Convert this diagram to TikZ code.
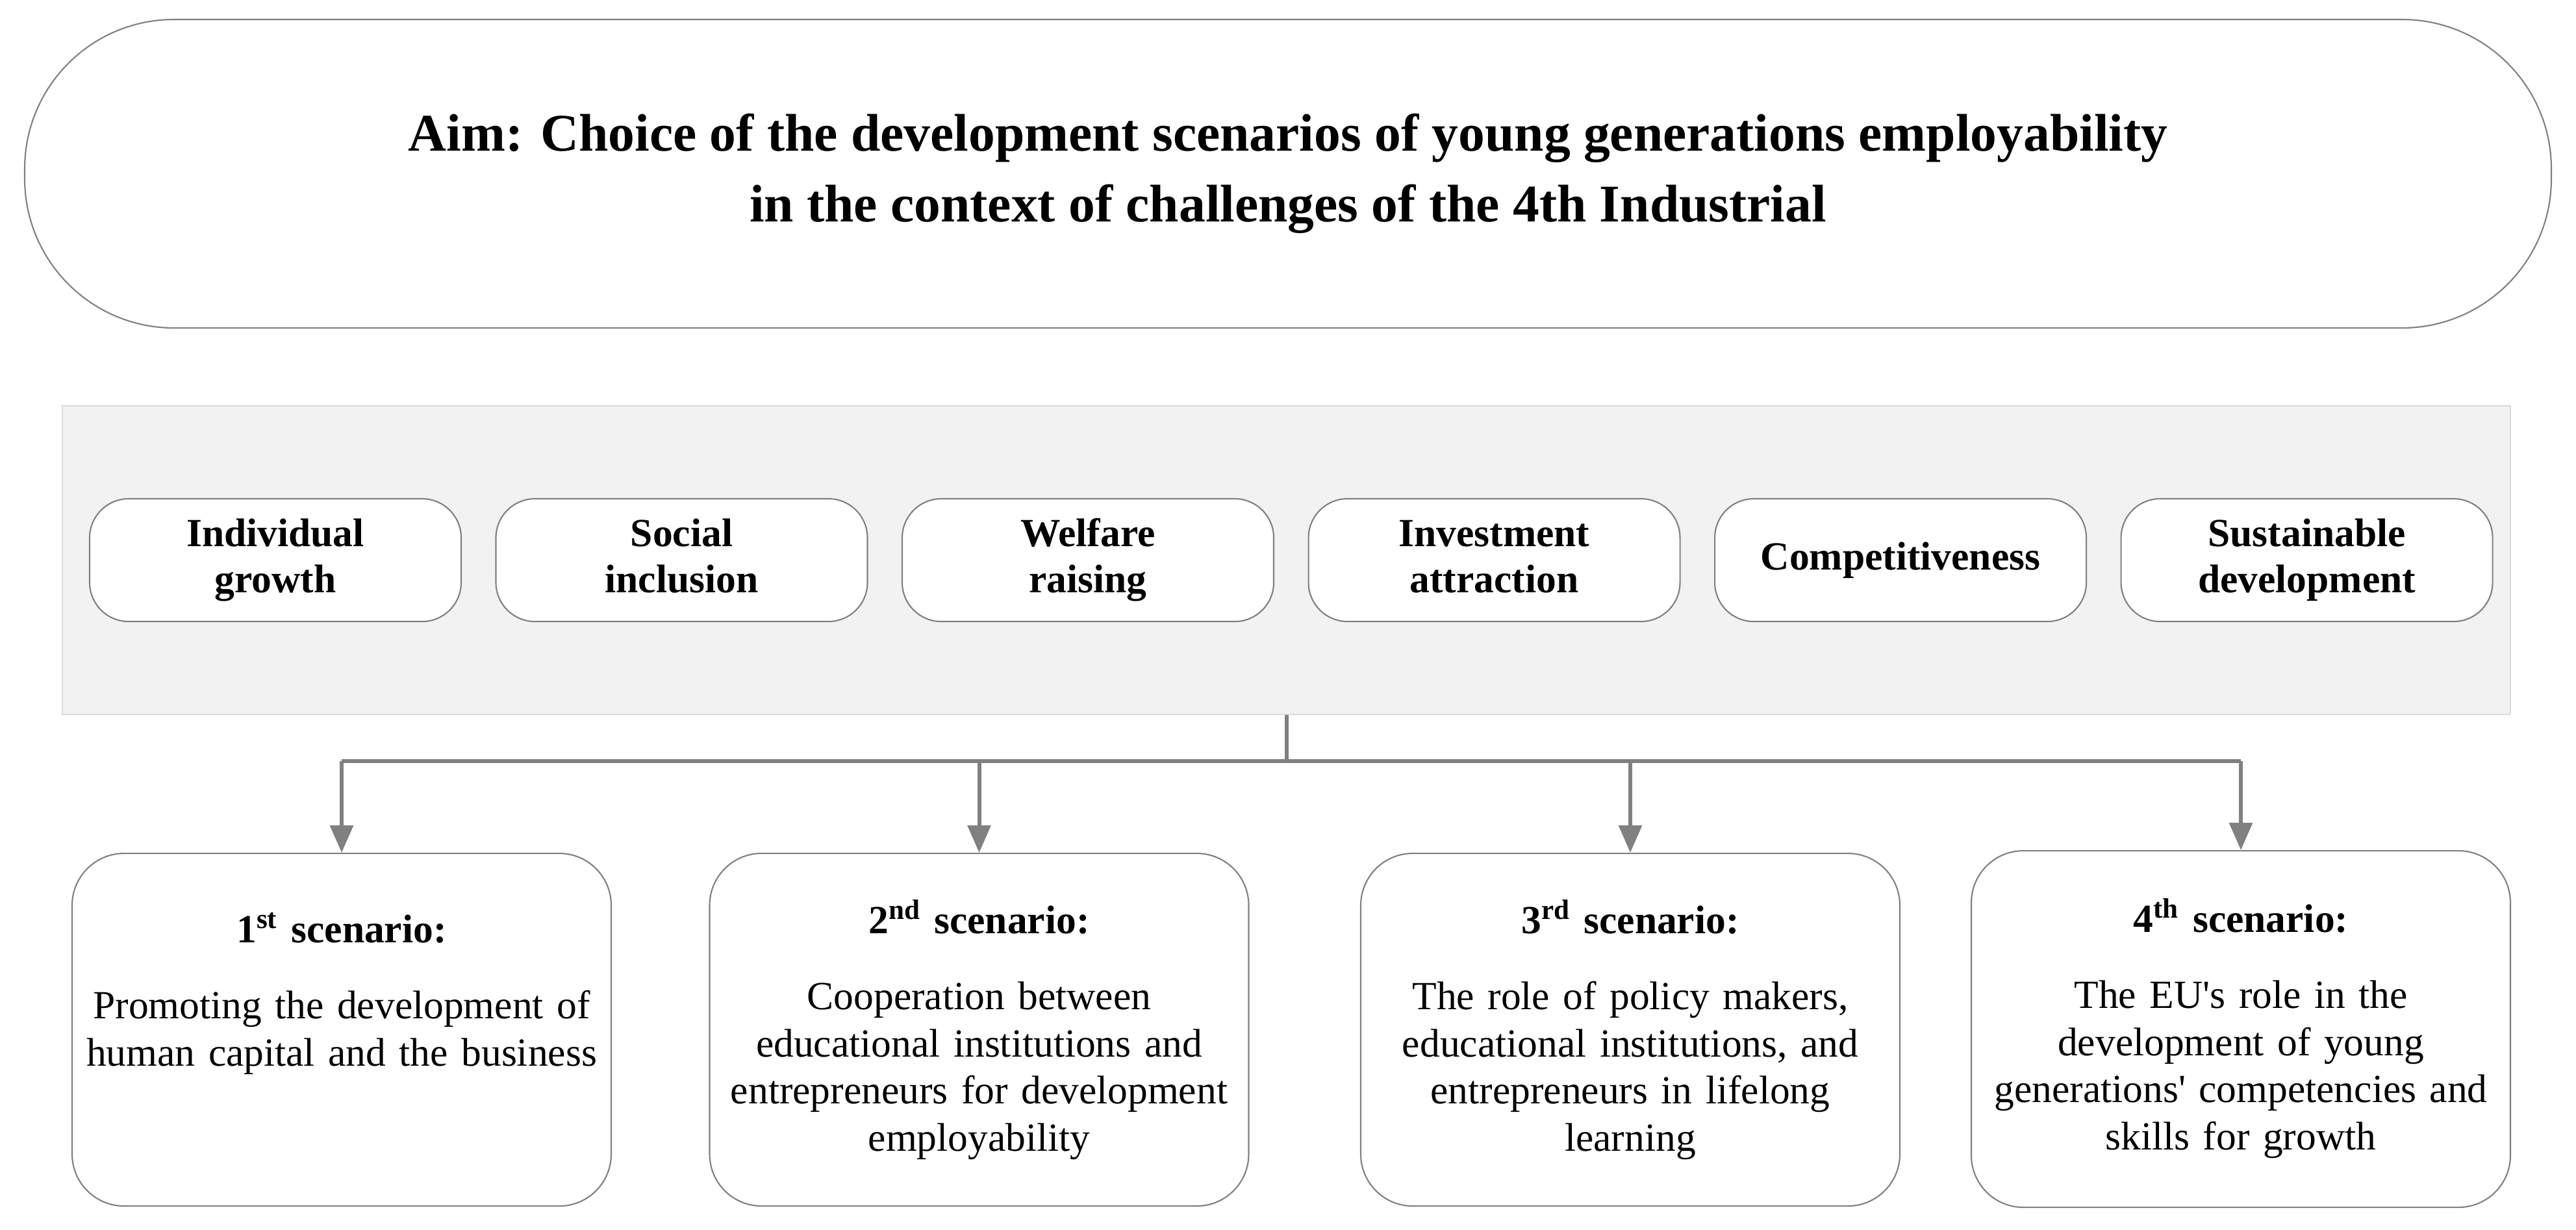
\documentclass[tikz,border=0pt]{standalone}
\usepackage{fontspec}
\setmainfont{Liberation Serif}[Ligatures=TeXOff]
\usetikzlibrary{arrows.meta,positioning}

\begin{document}
\begin{tikzpicture}[
  aimbox/.style={draw=gray, line width=0.6pt, rounded corners=2.3cm, minimum width=38.9cm, minimum height=4.75cm, align=center, font=\bfseries\fontsize{23.2pt}{31pt}\selectfont},
  panelbox/.style={draw=black!15, fill=black!5, line width=0.6pt, minimum width=37.69cm, minimum height=4.75cm},
  goal/.style={draw=gray, fill=white, line width=0.6pt, rounded corners=0.6cm, minimum width=5.72cm, inner sep=0pt, text width=5.2cm, align=center, text height=0.73cm, text depth=1.16cm, font=\bfseries\fontsize{17.5pt}{20.2pt}\selectfont},
  scen/.style={draw=gray, line width=0.6pt, rounded corners=0.8cm, anchor=north, inner xsep=0pt, inner ysep=0pt, text width=8.3cm, align=center, text height=1.23cm, text depth=4.2cm, font=\fontsize{17.5pt}{20.6pt}\selectfont},
  link/.style={draw=gray, line width=1.7pt},
  arr/.style={link, -{Triangle[width=10pt,length=12pt]}}
]
\useasboundingbox (0,0) rectangle (39.66,-18.93);

% aim
\node[aimbox] (aim) at (19.83,-2.675) {Aim: Choice of the development scenarios of young generations employability\\ in the context of challenges of the 4th Industrial};

% goals
\node[panelbox] (panel) at (19.805,-8.625) {};
\node[goal] (g1) at (4.24,-8.625) {Individual\\growth};
\node[goal, right=0.514cm of g1] (g2) {Social\\inclusion};
\node[goal, right=0.514cm of g2] (g3) {Welfare\\raising};
\node[goal, right=0.514cm of g3] (g4) {Investment\\attraction};
\node[goal, right=0.514cm of g4, text height=1.09cm, text depth=0.80cm] (g5) {Competitiveness};
\node[goal, right=0.514cm of g5] (g6) {Sustainable\\development};

% scenarios
\node[scen, text height=1.37cm, text depth=4.06cm] (s1) at (5.26,-13.13) {{\bfseries 1\textsuperscript{st} scenario:}\\[12.9pt] Promoting the development of\\ human capital and the business};
\node[scen] (s2) at (15.075,-13.13) {{\bfseries 2\textsuperscript{nd} scenario:}\\[12.9pt] Cooperation between\\ educational institutions and\\ entrepreneurs for development\\ employability};
\node[scen] (s3) at (25.10,-13.13) {{\bfseries 3\textsuperscript{rd} scenario:}\\[12.9pt] The role of policy makers,\\ educational institutions, and\\ entrepreneurs in lifelong\\ learning};
\node[scen, text height=1.25cm, text depth=4.24cm] (s4) at (34.50,-13.09) {{\bfseries 4\textsuperscript{th} scenario:}\\[12.9pt] The EU's role in the\\ development of young\\ generations' competencies and\\ skills for growth};

% connectors
\draw[link] (panel.south) -- ++(0,-0.71) coordinate (bus);
\draw[link] (s1.north |- bus) -- (s4.north |- bus);
\draw[arr] (s1.north |- bus) -- (s1.north);
\draw[arr] (s2.north |- bus) -- (s2.north);
\draw[arr] (s3.north |- bus) -- (s3.north);
\draw[arr] (s4.north |- bus) -- (s4.north);
\end{tikzpicture}
\end{document}
